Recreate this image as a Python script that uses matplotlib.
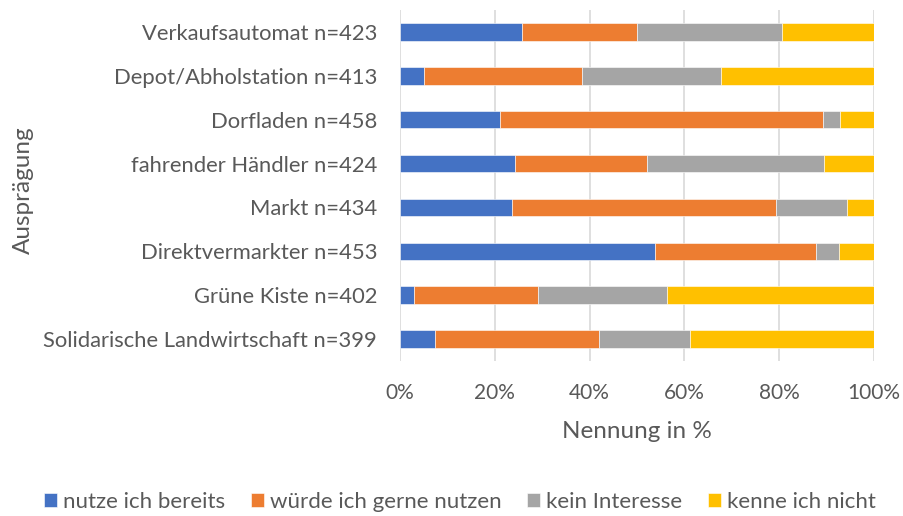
import matplotlib
matplotlib.use("Agg")
import matplotlib.pyplot as plt
import numpy as np
from matplotlib.ticker import FuncFormatter

categories = ["Verkaufsautomat n=423", "Depot/Abholstation n=413", "Dorfladen n=458",
              "fahrender Händler n=424", "Markt n=434", "Direktvermarkter n=453",
              "Grüne Kiste n=402", "Solidarische Landwirtschaft n=399"]
nutze = [25.7, 5.1, 21.0, 24.2, 23.6, 53.8, 3.0, 7.3]
wuerde = [24.3, 33.3, 68.3, 28.0, 55.8, 33.9, 26.2, 34.7]
kein = [30.6, 29.3, 3.6, 37.3, 14.8, 5.0, 27.2, 19.2]
kenne = [19.4, 32.3, 7.1, 10.5, 5.9, 7.3, 43.6, 38.8]
series_names = ["nutze ich bereits", "würde ich gerne nutzen", "kein Interesse", "kenne ich nicht"]
colors = ["#4472C4", "#ED7D31", "#A5A5A5", "#FFC000"]

plt.rcParams['font.family'] = ['Lato', 'DejaVu Sans']
txt = "#595959"

fig = plt.figure(figsize=(9.04, 5.16), dpi=100)
ax = fig.add_axes([400/904, 155/516, 474/904, 351/516])

y = np.arange(len(categories))
left = np.zeros(len(categories))
for vals, name, c in zip([nutze, wuerde, kein, kenne], series_names, colors):
    ax.barh(y, vals, left=left, height=0.4, color=c, label=name,
            edgecolor="white", linewidth=0.4, zorder=3)
    left += np.array(vals)

ax.set_ylim(len(categories) - 0.5, -0.5)
ax.set_xlim(0, 100)
ax.set_yticks(y)
ax.set_yticklabels(categories, fontsize=15.8, color=txt)
ax.set_xticks([0, 20, 40, 60, 80, 100])
ax.xaxis.set_major_formatter(FuncFormatter(lambda v, p: f"{v:.0f}%"))
ax.tick_params(axis='x', labelsize=15, labelcolor=txt, length=0, pad=16)
ax.tick_params(axis='y', length=0, pad=16.5)
ax.grid(axis='x', color="#D9D9D9", linewidth=1.2, zorder=0)
for s in ax.spines.values():
    s.set_visible(False)

ax.set_xlabel("Nennung in %", fontsize=17.5, color=txt, labelpad=13)
fig.text(23/904, 1 - 190/516, "Ausprägung", rotation=90, fontsize=17.5, color=txt,
         ha="center", va="center")

fig.legend(loc="center", bbox_to_anchor=(460/904, 1 - 502/516), ncol=4, frameon=False,
           fontsize=16, labelcolor=txt, handlelength=0.59, handleheight=0.59,
           handletextpad=0.27, columnspacing=1.15)

fig.savefig("out.png", dpi=100)
